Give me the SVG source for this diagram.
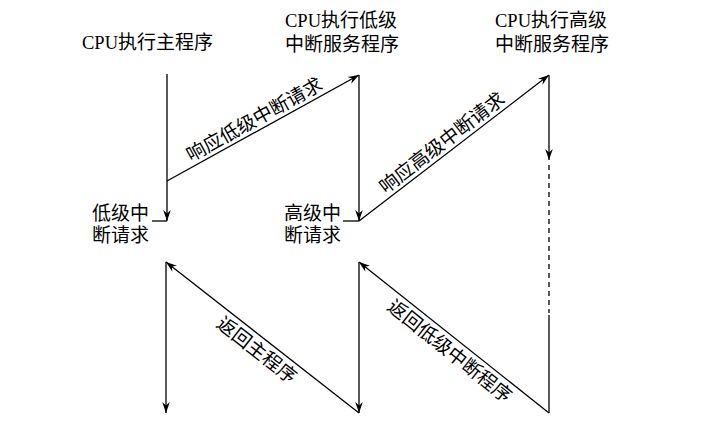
<svg xmlns="http://www.w3.org/2000/svg" width="705" height="440" viewBox="0 0 705 440">
<defs>
<marker id="arr" viewBox="-12 -5 14 10" markerWidth="14" markerHeight="10" refX="0" refY="0" orient="auto" markerUnits="userSpaceOnUse">
<path d="M0,0 L-11,-3.8 L-7.5,0 L-11,3.8 Z" fill="#000"/>
</marker>
<style>
.ln{stroke:#000;stroke-width:1.3;fill:none}
.t{font-family:"Noto Sans CJK SC","Liberation Serif",serif;font-size:19px;fill:#000}
.c{font-family:"Liberation Serif",serif;font-size:18.5px}
</style>
</defs>
<rect width="705" height="440" fill="#fff"/>
<g id="main-title"><text class="t" x="82" y="49"><tspan class="c">CPU</tspan>执行主程序</text></g>
<g id="low-title"><text class="t" x="285" y="27"><tspan class="c">CPU</tspan>执行低级<tspan x="285" y="51">中断服务程序</tspan></text></g>
<g id="high-title"><text class="t" x="495" y="27"><tspan class="c">CPU</tspan>执行高级<tspan x="495" y="51">中断服务程序</tspan></text></g>
<g id="low-req"><text class="t" x="92" y="220">低级中<tspan x="92" y="242">断请求</tspan></text></g>
<g id="high-req"><text class="t" x="284" y="220">高级中<tspan x="284" y="242">断请求</tspan></text></g>
<g id="connectors">
<line class="ln" x1="167" y1="74" x2="167" y2="221" marker-end="url(#arr)"/>
<line class="ln" x1="152" y1="221" x2="167" y2="221"/>
<line class="ln" x1="167" y1="181" x2="359" y2="75" marker-end="url(#arr)"/>
<line class="ln" x1="359" y1="75" x2="359" y2="221" marker-end="url(#arr)"/>
<line class="ln" x1="343" y1="221" x2="359" y2="221"/>
<line class="ln" x1="359" y1="221" x2="549" y2="75" marker-end="url(#arr)"/>
<line class="ln" x1="549" y1="75" x2="549" y2="160" marker-end="url(#arr)"/>
<line class="ln" x1="549" y1="165" x2="549" y2="313" stroke-dasharray="5,4"/>
<line class="ln" x1="549" y1="315" x2="549" y2="413"/>
<line class="ln" x1="549" y1="413" x2="359" y2="262" marker-end="url(#arr)"/>
<line class="ln" x1="359" y1="262" x2="359" y2="413" marker-end="url(#arr)"/>
<line class="ln" x1="359" y1="413" x2="166" y2="262" marker-end="url(#arr)"/>
<line class="ln" x1="166" y1="262" x2="166" y2="413" marker-end="url(#arr)"/>
</g>
<g id="label-resp-low"><text class="t" text-anchor="middle" transform="translate(260,129.7) rotate(-28.9)" x="0" y="-5">响应低级中断请求</text></g>
<g id="label-resp-high"><text class="t" text-anchor="middle" transform="translate(449,151.9) rotate(-37.5)" x="0" y="-5">响应高级中断请求</text></g>
<g id="label-ret-main"><text class="t" text-anchor="middle" transform="translate(265,339.5) rotate(38)" x="0" y="20">返回主程序</text></g>
<g id="label-ret-low"><text class="t" text-anchor="middle" transform="translate(458,340.5) rotate(38.5)" x="0" y="20">返回低级中断程序</text></g>
</svg>
